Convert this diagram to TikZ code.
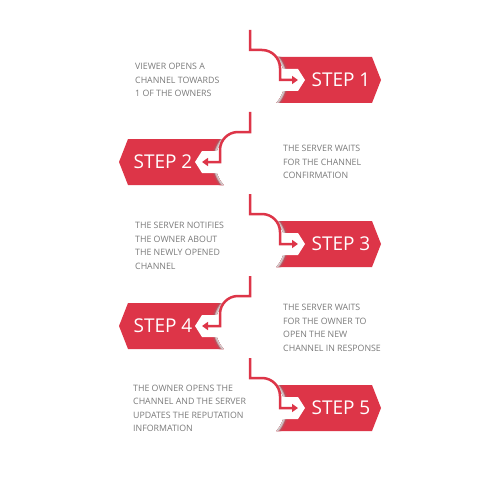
\documentclass[tikz,border=0pt]{standalone}
\usepackage{fontspec}
\setmainfont{Open Sans}
\usetikzlibrary{arrows.meta}
\definecolor{bred}{RGB}{221,53,72}
\definecolor{txtgray}{RGB}{122,122,122}
\tikzset{
  banner/.style={fill=bred},
  chevron/.style={fill=white},
  redline/.style={draw=bred, line width=2.5pt, -{Triangle[length=6pt,width=8pt]}},
  steplabel/.style={text=white, font=\fontsize{19}{19}\selectfont, inner sep=0pt},
  desc/.style={text=txtgray, font=\fontsize{8.8}{13.5}\selectfont, align=left, inner sep=0pt, anchor=west}
}
\begin{document}
\begin{tikzpicture}[x=1pt,y=-1pt]
\useasboundingbox (0,0) rectangle (500,500);
\fill[white] (0,0) rectangle (500,500);
\foreach \i/\c/\d in {1/80/1,2/162/-1,3/244/1,4/326/-1,5/408/1} {
  \coordinate (top\i) at (250,\c-50);
  \coordinate (ctr\i) at (250,\c);
  \coordinate (tip\i) at ({250+\d*48},\c);
  \pgfmathsetmacro{\sa}{\d>0 ? 41.06 : 138.94}
  \pgfmathsetmacro{\ea}{\d>0 ? -41.06 : 221.06}
  \def\bannerpath{({250+\d*26.4},\c-23) -- ({250+\d*122},\c-23) -- ({250+\d*131},\c)
     -- ({250+\d*122},\c+23) -- ({250+\d*26.4},\c+23) arc[start angle=\sa, end angle=\ea, radius=35] -- cycle}
  \fill[banner] \bannerpath;
  \begin{scope}
    \clip \bannerpath;
    \fill[bred!85!gray] (ctr\i) circle (39);
    \fill[bred!65!gray] (ctr\i) circle (38);
    \fill[bred!40!gray!60] (ctr\i) circle (37);
    \fill[gray!35] (ctr\i) circle (36);
  \end{scope}
  \fill[chevron] ({250+\d*33},\c-11) -- ({250+\d*48},\c-11) -- ({250+\d*55},\c)
     -- ({250+\d*48},\c+11) -- ({250+\d*33},\c+11) -- cycle;
  \node[steplabel] (lab\i) at ({252+\d*89},\c) {STEP \i};
  \draw[redline] (top\i) -- ++(0,20) -- ++({\d*12},0)
     arc[start angle=-90, end angle={-90+\d*90}, radius=18] -- ++(0,12) -- (tip\i);
}
\node[desc] (d1) at (135,80) {VIEWER OPENS A\\CHANNEL TOWARDS\\1 OF THE OWNERS};
\node[desc] (d2) at (283,162) {THE SERVER WAITS\\FOR THE CHANNEL\\CONFIRMATION};
\node[desc] (d3) at (135,246) {THE SERVER NOTIFIES\\THE OWNER ABOUT\\THE NEWLY OPENED\\CHANNEL};
\node[desc] (d4) at (283,328) {THE SERVER WAITS\\FOR THE OWNER TO\\OPEN THE NEW\\CHANNEL IN RESPONSE};
\node[desc] (d5) at (133,408.5) {THE OWNER OPENS THE\\CHANNEL AND THE SERVER\\UPDATES THE REPUTATION\\INFORMATION};
\end{tikzpicture}
\end{document}
